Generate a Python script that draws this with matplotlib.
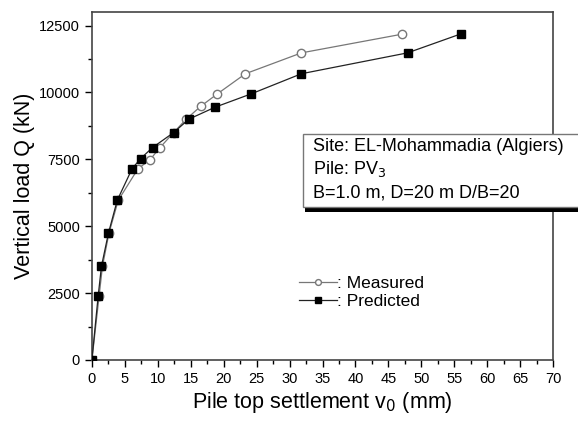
import numpy as np
import matplotlib.pyplot as plt
from matplotlib.ticker import MultipleLocator
from matplotlib.patches import Rectangle

# Wartosci
measured_x = [0, 1.1, 1.6, 2.6, 4.0, 7.0, 8.8, 10.3, 12.4, 14.3, 16.5, 19.0, 23.3, 31.8, 47.1]
measured_q = [0, 2400, 3500, 4750, 5970, 7150, 7480, 7930, 8500, 9000, 9480, 9940, 10700, 11480, 12180]

predicted_x = [0, 0.95, 1.45, 2.5, 3.85, 6.1, 7.4, 9.2, 12.4, 14.7, 18.7, 24.2, 31.8, 47.9, 56.0]
predicted_q = [0, 2390, 3500, 4730, 5970, 7150, 7530, 7940, 8500, 9000, 9450, 9950, 10700, 11480, 12190]

plt.rcParams["font.family"] = ["Liberation Sans", "DejaVu Sans"]

fig = plt.figure(figsize=(5.78, 4.21), dpi=100)
ax = fig.add_axes([0.159, 0.145, 0.798, 0.826])

ax.plot(measured_x, measured_q, color="#777777", lw=0.9, marker="o", ms=6,
        mfc="white", mec="#777777", mew=1.0, label=": Measured", zorder=2)
ax.plot(predicted_x, predicted_q, color="#222222", lw=0.9, marker="s", ms=6,
        mfc="black", mec="black", label=": Predicted", zorder=3)

ax.set_xlim(0, 70)
ax.set_ylim(0, 13000)
ax.xaxis.set_major_locator(MultipleLocator(5))
ax.xaxis.set_minor_locator(MultipleLocator(2.5))
ax.yaxis.set_major_locator(MultipleLocator(2500))
ax.yaxis.set_minor_locator(MultipleLocator(1250))
ax.tick_params(which="major", direction="out", length=5, width=1, labelsize=10.5)
ax.tick_params(which="minor", direction="out", length=3, width=1)
for s in ax.spines.values():
    s.set_color("#444444")
    s.set_linewidth(1.2)

ax.set_xlabel("Pile top settlement v$_0$ (mm)", fontsize=15.5, labelpad=3)
ax.set_ylabel("Vertical load Q (kN)", fontsize=15.5, labelpad=3)

leg = fig.legend(loc="center left", bbox_to_anchor=(0.505, 0.306), frameon=False,
                 fontsize=12.5, handlelength=2.2, handletextpad=0.0,
                 labelspacing=0.15, markerscale=0.7, borderaxespad=0)

# ramka z opisem
fig.add_artist(Rectangle((0.528, 0.497), 0.6, 0.008, transform=fig.transFigure,
                         fc="black", ec="none", zorder=4))
fig.add_artist(Rectangle((0.524, 0.508), 0.6, 0.174, transform=fig.transFigure,
                         fc="white", ec="#777777", lw=1.0, zorder=5))
lines = ["Site: EL-Mohammadia (Algiers)", "Pile: PV$_3$", "B=1.0 m, D=20 m D/B=20"]
line_y = [0.653, 0.599, 0.542]
for t, yy in zip(lines, line_y):
    fig.text(0.541, yy, t, fontsize=13, va="center", ha="left", zorder=6)

fig.savefig("out.png", dpi=100)
